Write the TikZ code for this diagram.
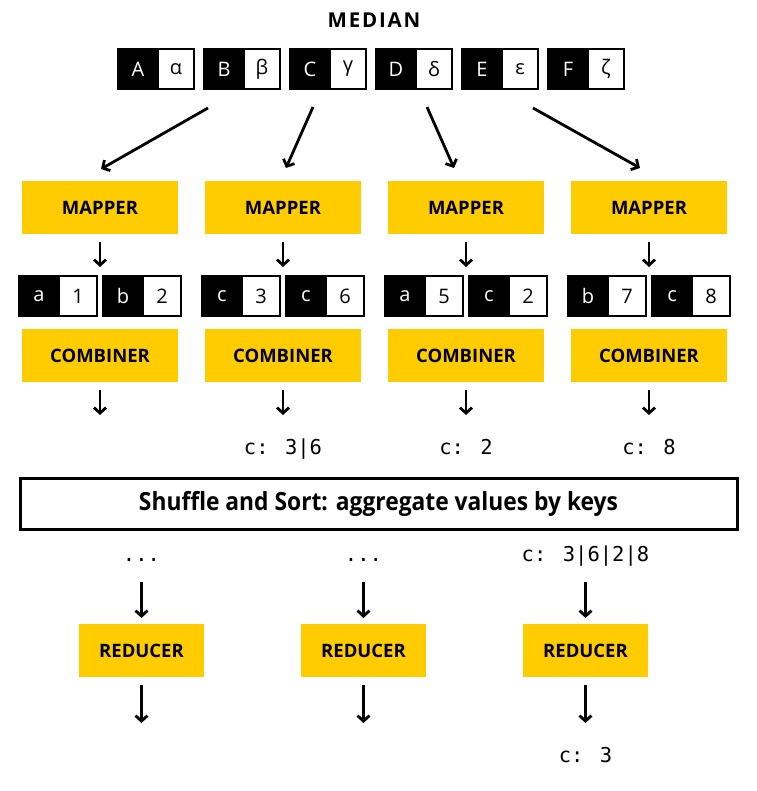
\documentclass[tikz,border=0pt]{standalone}
\usepackage{fontspec}
\setmainfont{Open Sans}
\newfontfamily\monof{DejaVu Sans Mono}
\newfontfamily\titlef{Open Sans}[LetterSpace=9]
\usetikzlibrary{arrows.meta}
\definecolor{ybox}{HTML}{FFCC00}
\begin{document}
\begin{tikzpicture}[x=1pt,y=-1pt,
  keybox/.style={fill=black,draw=black,line width=1.5pt,text=white,minimum width=40pt,minimum height=40pt,inner sep=0pt,outer sep=0pt,anchor=north west,font=\fontsize{20}{20}\selectfont},
  valbox/.style={fill=white,draw=black,line width=2pt,minimum height=40pt,inner sep=0pt,outer sep=0pt,anchor=north west,font=\fontsize{20}{20}\selectfont},
  ybox/.style={fill=ybox,minimum width=156pt,minimum height=53pt,inner sep=0pt,outer sep=0pt,font=\bfseries\fontsize{18.5}{18.5}\selectfont},
  rbox/.style={ybox,minimum width=125pt},
  mono/.style={inner sep=0pt,anchor=base,font=\monof\fontsize{20.5}{20.5}\selectfont},
  arr/.style={-{Straight Barb[length=5.5pt,width=12pt]},line width=2.8pt},
]
\useasboundingbox (0,0) rectangle (756,791);

\node[font=\titlef\bfseries\fontsize{20.5}{20.5}\selectfont] (title) at (374,20) {MEDIAN};

% top pairs
\foreach \k/\v [count=\i] in {A/α,B/β,C/γ,D/δ,E/ε,F/ζ}{
  \node[keybox] (tk\i) at ({118+86*(\i-1)},49) {\k};
  \node[valbox,minimum width=36pt] (tv\i) at (tk\i.north east) {\v};
}

% diagonal arrows
\coordinate (s1) at (208,108); \coordinate (e1) at (101,169);
\coordinate (s2) at (313,107); \coordinate (e2) at (286,168);
\coordinate (s3) at (427,107); \coordinate (e3) at (454,168);
\coordinate (s4) at (533,108); \coordinate (e4) at (640,168);
\foreach \i in {1,...,4}{\draw[arr] (s\i) -- (e\i);}

% mapper / combiner columns
\foreach \c/\ka/\va/\kb/\vb [count=\g] in {100/a/1/b/2,283/c/3/c/6,466/a/5/c/2,649/b/7/c/8}{
  \node[ybox] (m\g) at (\c,207.5) {MAPPER};
  \node[keybox] (pa\g) at ({\c-81},276) {\ka};
  \node[valbox,minimum width=38pt] (va\g) at (pa\g.north east) {\va};
  \node[keybox] (pb\g) at ({\c+3},276) {\kb};
  \node[valbox,minimum width=38pt] (vb\g) at (pb\g.north east) {\vb};
  \node[ybox] (cb\g) at (\c,355.5) {COMBINER};
  \draw[arr,shorten <=8pt,shorten >=9pt] (m\g.south) -- (m\g.south |- pa\g.north);
  \coordinate (ce\g) at (\c,415);
  \draw[arr,shorten <=8pt] (cb\g.south) -- (ce\g);
}
\node[mono] (o2) at (283,454) {c: 3|6};
\node[mono] (o3) at (466,454) {c: 2};
\node[mono] (o4) at (649,454) {c: 8};

% shuffle
\node[draw=black,line width=3pt,minimum width=717pt,minimum height=51pt,inner sep=0pt] (shuf) at (378.5,503.5)
  {\resizebox{479pt}{\height}{\bfseries\fontsize{25}{25}\selectfont Shuffle and Sort: aggregate values by keys}};

% reducers
\node[mono] (i1) at (141.5,561.5) {...};
\node[mono] (i2) at (363.5,561.5) {...};
\node[mono] (i3) at (585.5,561.5) {c: 3|6|2|8};
\foreach \x [count=\r] in {141.5,363.5,585.5}{
  \node[rbox] (r\r) at (\x,650.5) {REDUCER};
  \coordinate (ri\r) at (\x,582);
  \draw[arr,shorten >=6pt] (ri\r) -- (r\r.north);
  \coordinate (re\r) at (\x,723);
  \draw[arr,shorten <=8pt] (r\r.south) -- (re\r);
}
\node[mono] (res) at (585.5,762) {c: 3};
\end{tikzpicture}
\end{document}
